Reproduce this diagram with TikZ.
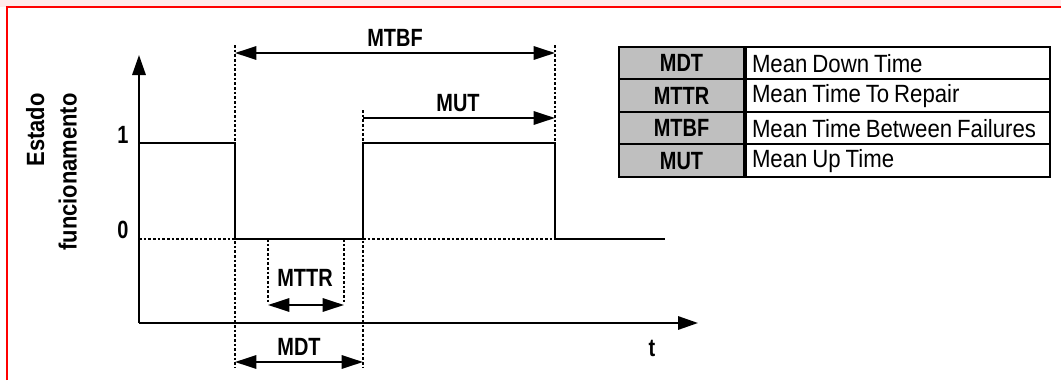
\documentclass[tikz,border=0pt]{standalone}
\usepackage{fontspec}
\setmainfont{Liberation Sans}[FakeStretch=0.89, WordSpace=0.8]
\newfontfamily\lblfont{Liberation Sans}[FakeStretch=0.8]
\newfontfamily\statefont{Liberation Sans}[FakeStretch=0.88]
\usetikzlibrary{arrows.meta, positioning, calc}

\begin{document}
\begin{tikzpicture}[
    x=0.75pt, y=0.75pt,
    font=\fontsize{18.7}{22}\selectfont,
    signal/.style={line width=1.6pt, line join=miter},
    axis/.style={line width=1.6pt, -{Triangle[length=15pt, width=10pt]}},
    guide/.style={line width=0.8pt, dash pattern=on 2pt off 1.5pt},
    span/.style={line width=1.5pt, {Triangle[length=16pt, width=10pt]}-{Triangle[length=16pt, width=10pt]}},
    spanright/.style={line width=1.5pt, -{Triangle[length=16pt, width=10pt]}},
    lbl/.style={font=\fontsize{18.7}{22}\lblfont\bfseries, inner sep=0pt},
    abbr/.style={rectangle, draw, line width=1.5pt, fill=black!25, minimum width=93.75pt, minimum height=24.4pt, inner sep=0pt, font=\fontsize{18.7}{22}\lblfont\bfseries},
    desc/.style={rectangle, draw, line width=1.5pt, fill=white, minimum width=228pt, minimum height=24.4pt, inner xsep=4.5pt, inner ysep=0pt}
]
    \useasboundingbox (0,0) rectangle (1061,380);

    % page frame
    \fill[red!8] (0,373) rectangle (1061,380);
    \draw[red, line width=1.5pt] (7,0) -- (7,373) -- (1061,373);

    % axes
    \coordinate (orig) at (139,57);
    \coordinate (ytop) at (139,325);
    \coordinate (xend) at (698,57);
    \draw[axis] (orig) -- (ytop);
    \draw[axis] (orig) -- (xend);

    % state levels
    \coordinate (s0) at (139,237);
    \coordinate (f1) at (235,237);
    \coordinate (f0) at (235,141);
    \coordinate (r0) at (363,141);
    \coordinate (r1) at (363,237);
    \coordinate (g1) at (555,237);
    \coordinate (g0) at (555,141);
    \coordinate (e0) at (665,141);
    \coordinate (z0) at (139,141);
    \draw[signal] (s0) -- (f1) -- (f0) -- (r0) -- (r1) -- (g1) -- (g0) -- (e0);
    \draw[guide] (z0) -- (f0);
    \draw[guide] (r0) -- (g0);

    % guide lines
    \coordinate (fa) at (235,335);
    \coordinate (fb) at (235,12);
    \coordinate (ra) at (363,270);
    \coordinate (rb) at (363,12);
    \coordinate (ga) at (555,335);
    \coordinate (ma) at (268,141);
    \coordinate (mb) at (268,78);
    \coordinate (na) at (344,141);
    \coordinate (nb) at (344,78);
    \draw[guide] (fa) -- (fb);
    \draw[guide] (ra) -- (rb);
    \draw[guide] (ga) -- (g1);
    \draw[guide] (ma) -- (mb);
    \draw[guide] (na) -- (nb);

    % intervals
    \coordinate (mtbfL) at (235,327);
    \coordinate (mtbfR) at (555,327);
    \coordinate (mutL) at (363,262);
    \coordinate (mutR) at (555,262);
    \coordinate (mttrL) at (268,75);
    \coordinate (mttrR) at (344,75);
    \coordinate (mdtL) at (235,18);
    \coordinate (mdtR) at (363,18);
    \draw[span] (mtbfL) -- (mtbfR);
    \draw[spanright] (mutL) -- (mutR);
    \draw[span] (mttrL) -- (mttrR);
    \draw[span] (mdtL) -- (mdtR);

    % labels
    \node[lbl] (lmtbf) at (395,342) {MTBF};
    \node[lbl] (lmut) at (458,277) {MUT};
    \node[lbl] (lmttr) at (305,102) {MTTR};
    \node[lbl] (lmdt) at (299,33) {MDT};
    \node[lbl] (lt) at (652,32) {t};
    \node[lbl] (lone) at (123,245) {1};
    \node[lbl] (lzero) at (123,150) {0};
    \node[lbl, rotate=90, align=right, font=\fontsize{18.7}{24.5}\statefont\bfseries] (lstate) at (51.5,208) {Estado\\funcionamento};

    % legend table
    \foreach \ab/\tx [count=\i] in {MDT/Mean Down Time, MTTR/Mean Time To Repair, MTBF/Mean Time Between Failures, MUT/Mean Up Time} {
        \node[abbr] (ab\i) at (681.5,349.25-\i*32.5) {\ab};
        \node[desc, right=0pt of ab\i] (tx\i) {\makebox[219pt][l]{\tx}};
    }

\end{tikzpicture}
\end{document}
